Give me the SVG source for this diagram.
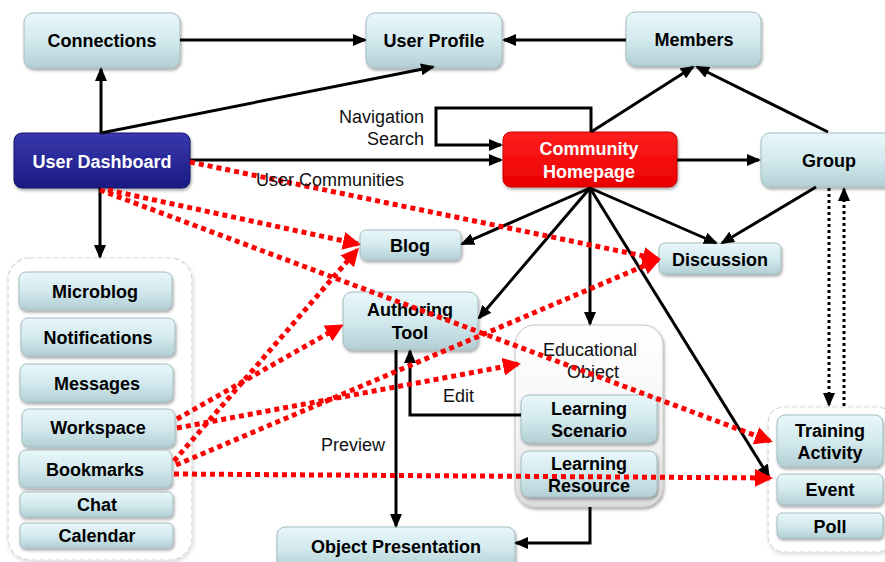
<svg xmlns="http://www.w3.org/2000/svg" width="885" height="562" viewBox="0 0 885 562">
  <defs>
    <style>
      .box { fill: url(#gCyan); stroke: #a4bcc1; stroke-width: 1; filter: url(#shadow); }
      .t { font-family: "Liberation Sans", Arial, sans-serif; font-size: 18px; font-weight: bold; text-anchor: middle; fill: #000; }
      .tw { fill: #fff; }
      .lbl { font-family: "Liberation Sans", Arial, sans-serif; font-size: 18px; fill: #111; }
      .blk { fill: none; stroke: #000; stroke-width: 3; marker-end: url(#ah); }
      .blk-n { fill: none; stroke: #000; stroke-width: 3; }
      .dot { fill: none; stroke: #000; stroke-width: 3; stroke-dasharray: 3 3; marker-end: url(#ah); }
      .red { fill: none; stroke: #ff0000; stroke-width: 5; stroke-dasharray: 5 4; marker-end: url(#rh); }
      .panel { fill: #fff; stroke: #d6d6d6; stroke-width: 1.2; stroke-dasharray: 5 3; filter: url(#soft); }
    </style>
    <linearGradient id="gCyan" x1="0" y1="0" x2="0" y2="1">
      <stop offset="0" stop-color="#e8f7fa"/>
      <stop offset="0.5" stop-color="#d3eaee"/>
      <stop offset="1" stop-color="#b2cfd5"/>
    </linearGradient>
    <linearGradient id="gBlue" x1="0" y1="0" x2="0" y2="1">
      <stop offset="0" stop-color="#3838ad"/>
      <stop offset="1" stop-color="#1b1b84"/>
    </linearGradient>
    <linearGradient id="gRed" x1="0" y1="0" x2="0" y2="1">
      <stop offset="0" stop-color="#ff1e1e"/>
      <stop offset="1" stop-color="#ea0000"/>
    </linearGradient>
    <linearGradient id="gGrey" x1="0" y1="0" x2="0" y2="1">
      <stop offset="0" stop-color="#ffffff"/>
      <stop offset="0.6" stop-color="#f4f4f4"/>
      <stop offset="1" stop-color="#dcdcdc"/>
    </linearGradient>
    <filter id="shadow" x="-10%" y="-20%" width="130%" height="150%">
      <feDropShadow dx="1" dy="2" stdDeviation="1.5" flood-color="#000" flood-opacity="0.35"/>
    </filter>
    <filter id="soft" x="-10%" y="-10%" width="120%" height="120%">
      <feDropShadow dx="1" dy="2" stdDeviation="2" flood-color="#000" flood-opacity="0.15"/>
    </filter>
    <marker id="ah" markerUnits="userSpaceOnUse" markerWidth="14" markerHeight="12" refX="12" refY="6" orient="auto">
      <path d="M0,0 L14,6 L0,12 z" fill="#000"/>
    </marker>
    <marker id="rh" markerUnits="userSpaceOnUse" markerWidth="18" markerHeight="18" refX="15" refY="9" orient="auto">
      <path d="M0,0 L18,9 L0,18 z" fill="#ff0000"/>
    </marker>
  </defs>

  <rect width="885" height="562" fill="#fff"/>

  <!-- containers -->
  <g id="dashboard-panel">
    <rect class="panel" x="8" y="258" width="184" height="302" rx="22"/>
  </g>
  <g id="educational-object">
    <rect x="515" y="325" width="148" height="182" rx="20" fill="url(#gGrey)" stroke="#c4c4c4" stroke-width="1" filter="url(#shadow)"/>
    <text class="lbl" x="590" y="356" text-anchor="middle">Educational</text>
    <text class="lbl" x="593" y="378" text-anchor="middle">Object</text>
  </g>
  <g id="activity-panel">
    <rect class="panel" x="768" y="407" width="125" height="145" rx="16"/>
  </g>

  <!-- nodes -->
  <g id="connections">
    <rect class="box" x="24" y="13" width="156" height="55" rx="9"/>
    <text class="t" x="102" y="47">Connections</text>
  </g>
  <g id="user-profile">
    <rect class="box" x="366" y="13" width="136" height="55" rx="9"/>
    <text class="t" x="434" y="47">User Profile</text>
  </g>
  <g id="members">
    <rect class="box" x="626" y="12" width="135" height="54" rx="9"/>
    <text class="t" x="694" y="46">Members</text>
  </g>
  <g id="user-dashboard">
    <rect x="14" y="133" width="176" height="55" rx="8" fill="url(#gBlue)" stroke="#15156a" stroke-width="1" filter="url(#shadow)"/>
    <text class="t tw" x="102" y="168">User Dashboard</text>
  </g>
  <g id="community-homepage">
    <rect x="503" y="132" width="174" height="55" rx="8" fill="url(#gRed)" stroke="#c80000" stroke-width="1" filter="url(#shadow)"/>
    <text class="t tw" x="589" y="155">Community</text>
    <text class="t tw" x="589" y="178">Homepage</text>
  </g>
  <g id="group">
    <rect class="box" x="761" y="133" width="136" height="54" rx="9"/>
    <text class="t" x="829" y="167">Group</text>
  </g>
  <g id="blog">
    <rect class="box" x="360" y="230" width="101" height="30" rx="6"/>
    <text class="t" x="410" y="252">Blog</text>
  </g>
  <g id="discussion">
    <rect class="box" x="659" y="243" width="122" height="31" rx="6"/>
    <text class="t" x="720" y="266">Discussion</text>
  </g>
  <g id="authoring-tool">
    <rect class="box" x="343" y="292" width="135" height="58" rx="9"/>
    <text class="t" x="410" y="316">Authoring</text>
    <text class="t" x="410" y="339">Tool</text>
  </g>
  <g id="learning-scenario">
    <rect class="box" x="521" y="395" width="136" height="48" rx="8"/>
    <text class="t" x="589" y="415">Learning</text>
    <text class="t" x="589" y="437">Scenario</text>
  </g>
  <g id="learning-resource">
    <rect class="box" x="521" y="451" width="136" height="46" rx="8"/>
    <text class="t" x="589" y="470">Learning</text>
    <text class="t" x="589" y="492">Resource</text>
  </g>
  <g id="object-presentation">
    <rect class="box" x="277" y="527" width="238" height="42" rx="8"/>
    <text class="t" x="396" y="553">Object Presentation</text>
  </g>
  <g id="microblog">
    <rect class="box" x="19" y="272" width="153" height="38" rx="7"/>
    <text class="t" x="95" y="298">Microblog</text>
  </g>
  <g id="notifications">
    <rect class="box" x="21" y="318" width="154" height="38" rx="7"/>
    <text class="t" x="98" y="344">Notifications</text>
  </g>
  <g id="messages">
    <rect class="box" x="20" y="364" width="153" height="38" rx="7"/>
    <text class="t" x="97" y="390">Messages</text>
  </g>
  <g id="workspace">
    <rect class="box" x="22" y="409" width="153" height="38" rx="7"/>
    <text class="t" x="98" y="434">Workspace</text>
  </g>
  <g id="bookmarks">
    <rect class="box" x="19" y="450" width="153" height="38" rx="7"/>
    <text class="t" x="95" y="476">Bookmarks</text>
  </g>
  <g id="chat">
    <rect class="box" x="20" y="492" width="153" height="25" rx="5"/>
    <text class="t" x="97" y="511">Chat</text>
  </g>
  <g id="calendar">
    <rect class="box" x="20" y="523" width="153" height="25" rx="5"/>
    <text class="t" x="97" y="542">Calendar</text>
  </g>
  <g id="training-activity">
    <rect class="box" x="777" y="415" width="106" height="52" rx="8"/>
    <text class="t" x="830" y="437">Training</text>
    <text class="t" x="830" y="459">Activity</text>
  </g>
  <g id="event">
    <rect class="box" x="777" y="474" width="106" height="31" rx="6"/>
    <text class="t" x="830" y="496">Event</text>
  </g>
  <g id="poll">
    <rect class="box" x="777" y="513" width="106" height="25" rx="5"/>
    <text class="t" x="830" y="533">Poll</text>
  </g>

  <!-- connectors -->
  <g id="connectors">
    <path class="blk" d="M180,40 L365,40"/>
    <path class="blk" d="M626,40 L504,40"/>
    <path class="blk" d="M101,133 L101,69"/>
    <path class="blk" d="M101,133 L433,67"/>
    <path class="blk" d="M591,132 L693,67"/>
    <path class="blk" d="M828,132 L697,67"/>
    <path class="blk" d="M591,132 L591,108 L436,108 L436,145 L501,145"/>
    <path class="blk" d="M190,160 L501,160"/>
    <path class="blk" d="M677,160 L759,160"/>
    <path class="blk" d="M590,188 L462,244"/>
    <path class="blk" d="M590,188 L479,318"/>
    <path class="blk" d="M590,188 L590,324"/>
    <path class="blk" d="M590,188 L716,243"/>
    <path class="blk" d="M590,188 L769,477"/>
    <path class="blk" d="M816,187 L722,243"/>
    <path class="dot" d="M829,188 L829,405"/>
    <path class="dot" d="M844,406 L844,189"/>
    <path class="blk" d="M100,188 L100,257"/>
    <path class="blk" d="M396,350 L396,526"/>
    <path class="blk" d="M521,415 L410,415 L410,351"/>
    <path class="blk" d="M590,507 L590,543 L516,543"/>

    <path class="red" d="M190,162 L658,259"/>
    <path class="red" d="M108,190 L358,244"/>
    <path class="red" d="M100,190 L770,441"/>
    <path class="red" d="M177,419 L341,326"/>
    <path class="red" d="M177,428 L518,364"/>
    <path class="red" d="M174,461 L357,250"/>
    <path class="red" d="M176,465 L658,260"/>
    <path class="red" d="M174,474 L770,478"/>

    <text class="lbl" x="424" y="123" text-anchor="end">Navigation</text>
    <text class="lbl" x="424" y="145" text-anchor="end">Search</text>
    <text class="lbl" x="256" y="186">User Communities</text>
    <text class="lbl" x="443" y="402">Edit</text>
    <text class="lbl" x="321" y="451">Preview</text>
  </g>
</svg>
